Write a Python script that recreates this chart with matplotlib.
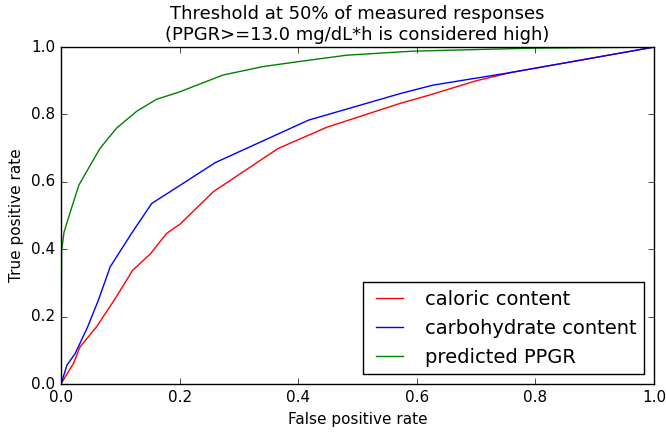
import matplotlib
matplotlib.use("Agg")
import matplotlib.pyplot as plt

calories_fpr = [0.0, 0.010, 0.021, 0.032, 0.06, 0.09, 0.121, 0.150, 0.178, 0.201, 0.257, 0.366, 0.448, 0.572, 0.622, 0.70, 0.76, 1.0]
calories_tpr = [0.0, 0.03, 0.061, 0.11, 0.17, 0.25, 0.338, 0.385, 0.447, 0.475, 0.571, 0.699, 0.762, 0.833, 0.858, 0.90, 0.925, 1.0]

carbs_fpr = [0.0, 0.010, 0.024, 0.045, 0.063, 0.083, 0.12, 0.153, 0.201, 0.26, 0.417, 0.572, 0.627, 0.76, 1.0]
carbs_tpr = [0.0, 0.056, 0.091, 0.17, 0.249, 0.348, 0.45, 0.536, 0.59, 0.657, 0.783, 0.862, 0.887, 0.925, 1.0]

ppgr_fpr = [0.0, 0.001, 0.005, 0.012, 0.03, 0.066, 0.094, 0.128, 0.161, 0.2, 0.273, 0.34, 0.397, 0.482, 0.594, 0.8, 1.0]
ppgr_tpr = [0.0, 0.395, 0.45, 0.49, 0.59, 0.70, 0.76, 0.81, 0.845, 0.867, 0.917, 0.942, 0.956, 0.976, 0.988, 0.997, 1.0]

labels = ["caloric content", "carbohydrate content", "predicted PPGR"]

plt.style.use("classic")
plt.rcParams["figure.facecolor"] = "white"
fig = plt.figure(figsize=(6.66, 4.32), dpi=100)
ax = fig.add_axes([0.0916, 0.111, 0.8904, 0.780])
ax.plot(calories_fpr, calories_tpr, color="r", label=labels[0])
ax.plot(carbs_fpr, carbs_tpr, color="b", label=labels[1])
ax.plot(ppgr_fpr, ppgr_tpr, color="g", label=labels[2])
ax.set_xlim(0, 1)
ax.set_ylim(0, 1)
ax.set_xlabel("False positive rate", fontsize=11)
ax.set_ylabel("True positive rate", fontsize=11)
ax.set_title("Threshold at 50% of measured responses\n(PPGR>=13.0 mg/dL*h is considered high)", fontsize=13)
ax.tick_params(labelsize=11)
ax.legend(loc="lower right", fontsize=14, handlelength=2.0)
fig.savefig("out.png", dpi=100)
